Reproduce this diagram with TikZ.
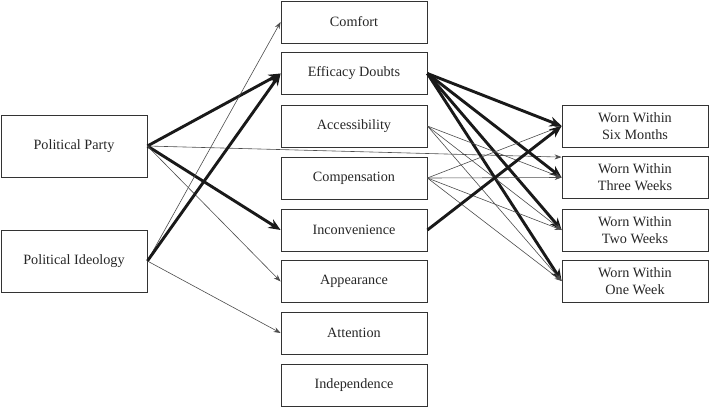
\documentclass[tikz,border=0pt]{standalone}
\usepackage{fontspec}
\setmainfont{Liberation Serif}
\usetikzlibrary{arrows.meta,calc}
\begin{document}
\begin{tikzpicture}[x=1pt,y=-1pt,
  box/.style={draw=black!80,line width=0.8pt,minimum width=146pt,minimum height=42pt,inner sep=0pt,align=center,text=black!85,font=\fontsize{14.2}{17}\selectfont},
  bigbox/.style={box,minimum width=146pt,minimum height=62pt},
  thinarr/.style={draw=black!70,line width=0.6pt,-{Stealth[length=7pt,width=5pt]}},
  thickarr/.style={draw=black!90,line width=2.9pt,-{Stealth[length=12pt,width=10pt]}}]
\useasboundingbox (0,0) rectangle (709,407);
% left
\node[bigbox] (pp) at (74,146) {Political Party};
\node[bigbox] (pi) at (74,261) {Political Ideology};
% middle
\node[box] (co) at (354,22) {Comfort};
\node[box] (ed) at (354,73.5) {Efficacy Doubts};
\node[box] (ac) at (354,126) {Accessibility};
\node[box] (cp) at (354,178) {Compensation};
\node[box] (in) at (354,230) {Inconvenience};
\node[box] (ap) at (354,281.5) {Appearance};
\node[box] (at) at (354,333) {Attention};
\node[box] (id) at (354,385) {Independence};
% right
\node[box] (sm) at (635,126) {Worn Within\\Six Months};
\node[box] (tw) at (635,177.5) {Worn Within\\Three Weeks};
\node[box] (two) at (635,230) {Worn Within\\Two Weeks};
\node[box] (ow) at (635,281) {Worn Within\\One Week};
% left arrows
\draw[thickarr] (pp.east) -- (ed.west);
\draw[thickarr] (pp.east) -- (in.west);
\draw[thinarr] (pp.east) -- (ap.west);
\draw[thinarr] (pp.east) -- ($(tw.north west)+(0,1)$);
\draw[thinarr] (pi.east) -- (co.west);
\draw[thickarr] (pi.east) -- (ed.west);
\draw[thinarr] (pi.east) -- (at.west);
% right arrows
\draw[thickarr] (ed.east) -- (sm.west);
\draw[thickarr] (ed.east) -- (tw.west);
\draw[thickarr] (ed.east) -- (two.west);
\draw[thickarr] (ed.east) -- (ow.west);
\draw[thinarr] (ac.east) -- (tw.west);
\draw[thinarr] (ac.east) -- (two.west);
\draw[thinarr] (ac.east) -- (ow.west);
\draw[thinarr] (cp.east) -- (sm.west);
\draw[thinarr] (cp.east) -- (tw.west);
\draw[thinarr] (cp.east) -- (two.west);
\draw[thinarr] (cp.east) -- (ow.west);
\draw[thickarr] (in.east) -- (sm.west);
\end{tikzpicture}
\end{document}
